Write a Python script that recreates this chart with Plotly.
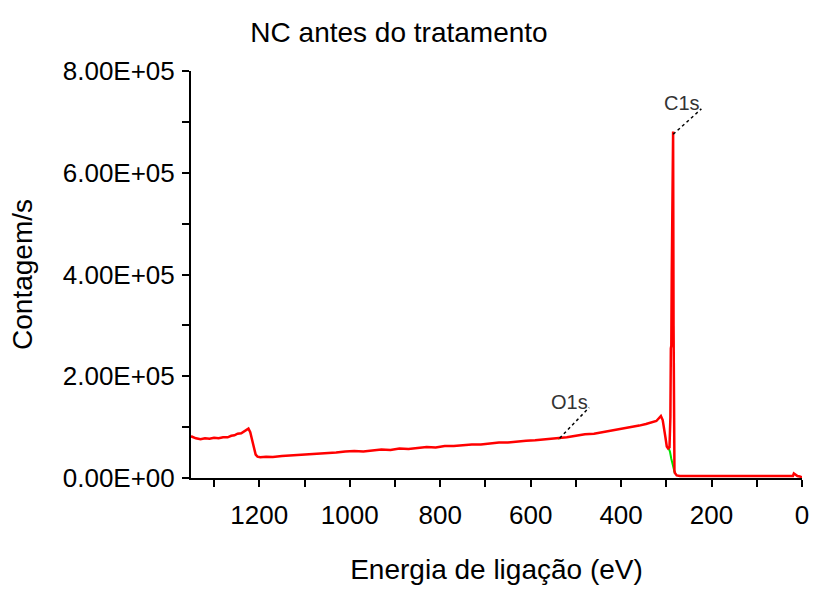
import plotly.graph_objects as go

# ---- data ----
energy_ev = [1351, 1340, 1330, 1320, 1310, 1300, 1290, 1280, 1270, 1262, 1255, 1248, 1240,
             1234, 1228, 1224, 1220, 1216, 1212, 1208, 1204, 1198, 1185, 1170, 1150, 1130,
             1110, 1090, 1070, 1050, 1030, 1010, 990, 970, 950, 930, 910, 890, 870, 850,
             830, 810, 790, 770, 750, 730, 710, 690, 670, 650, 630, 610, 590, 570, 550,
             535, 520, 500, 480, 460, 440, 420, 400, 380, 360, 345, 330, 322, 316, 312,
             308, 305, 302, 299, 296, 293, 291, 290, 289, 288, 287, 286, 285, 284, 283,
             282, 281, 279, 277, 270, 250, 230, 200, 150, 100, 50, 20, 18, 10, 5, 0]
counts_k = [82, 78, 76, 78, 77, 79, 78, 80, 80, 83, 84, 87, 88,
            92, 96, 97, 90, 75, 56, 46, 42, 41, 42, 41.5, 43, 44,
            45, 46, 48, 49, 50, 52, 53, 52, 54, 56, 55, 58, 57, 59,
            61, 60, 63, 63, 65, 66, 66, 68, 70, 70, 72, 73, 74, 76, 77,
            78, 80, 83, 86, 87, 90, 93, 96, 99, 103, 106, 110, 112, 118, 122,
            114, 100, 80, 62, 58, 60, 120, 255, 260, 400, 560, 681, 681, 300, 40,
            14, 10, 8, 5, 4, 4, 3.5, 4, 3.5, 3.8, 3.5, 4, 9, 4, 3, 1]
counts = [c * 1000 for c in counts_k]

# background (green) segments
bg_c1s_ev = [296, 292, 289, 286, 283, 281]
bg_c1s_counts = [61000, 52000, 38000, 25000, 14000, 9000]
bg_o1s_ev = [540, 535, 530]
bg_o1s_counts = [77500, 78300, 79000]

# peak labels
peak_names = ["C1s", "O1s"]
peak_ev = [284.8, 535.8]
peak_counts = [675600, 78300]
leader_end_ev = [222.5, 470.8]
leader_end_counts = [725600, 138400]
label_ev = [266, 515]
label_counts = [738000, 150000]

x_tick_vals = [0, 100, 200, 300, 400, 500, 600, 700, 800, 900, 1000, 1100, 1200, 1300]
x_tick_text = ["0", "", "200", "", "400", "", "600", "", "800", "", "1000", "", "1200", ""]
y_tick_vals = [0, 100000, 200000, 300000, 400000, 500000, 600000, 700000, 800000]
y_tick_text = ["0.00E+00", "", "2.00E+05", "", "4.00E+05", "", "6.00E+05", "", "8.00E+05"]

x_range = [1351, 0]
y_range = [0, 800000]

FONT = "Liberation Sans, Arial, sans-serif"

fig = go.Figure()
fig.add_trace(go.Scatter(x=bg_c1s_ev, y=bg_c1s_counts, mode="lines",
                         line=dict(color="#00e000", width=2), showlegend=False))
fig.add_trace(go.Scatter(x=bg_o1s_ev, y=bg_o1s_counts, mode="lines",
                         line=dict(color="#00e000", width=2), showlegend=False))
fig.add_trace(go.Scatter(x=energy_ev, y=counts, mode="lines",
                         line=dict(color="#ff0000", width=2.5), showlegend=False))

for name, pe, pc, le, lc, te, tc in zip(peak_names, peak_ev, peak_counts,
                                        leader_end_ev, leader_end_counts,
                                        label_ev, label_counts):
    fig.add_shape(type="line", x0=pe, y0=pc, x1=le, y1=lc, xref="x", yref="y",
                  line=dict(color="black", width=1.5, dash="dot"))
    fig.add_annotation(x=te, y=tc, xref="x", yref="y", text=name, showarrow=False,
                       font=dict(family=FONT, size=20, color="#333333"),
                       xanchor="center", yanchor="middle")

axis_common = dict(showgrid=False, zeroline=False)

fig.update_layout(
    width=818, height=589,
    margin=dict(l=191, r=9, t=71, b=106),
    paper_bgcolor="white", plot_bgcolor="white",
    font=dict(family=FONT, color="black"),
    title=dict(text="NC antes do tratamento", x=399 / 818, xref="container",
               y=1 - 32 / 589, yref="container", xanchor="center", yanchor="middle",
               font=dict(family=FONT, size=28, color="black")),
    xaxis=dict(range=x_range, tickmode="array", tickvals=x_tick_vals, ticktext=x_tick_text,
               ticks="outside", ticklen=7, tickwidth=2, tickcolor="black",
               showline=True, linecolor="black", linewidth=2,
               ticklabelstandoff=6,
               tickfont=dict(family=FONT, size=26, color="black"),
               title=dict(text="Energia de ligação (eV)", standoff=30,
                          font=dict(family=FONT, size=28, color="black")),
               **axis_common),
    yaxis=dict(range=y_range, tickmode="array", tickvals=y_tick_vals, ticktext=y_tick_text,
               ticks="outside", ticklen=7, tickwidth=2, tickcolor="black",
               showline=True, linecolor="black", linewidth=2,
               ticklabelstandoff=2,
               tickfont=dict(family=FONT, size=26, color="black"),
               title=dict(text="Contagem/s", standoff=22,
                          font=dict(family=FONT, size=28, color="black")),
               **axis_common),
    xaxis2=dict(overlaying="x", anchor="y", side="bottom", range=x_range,
                tickmode="array", tickvals=x_tick_vals, showticklabels=False,
                ticks="inside", ticklen=6, tickwidth=2, tickcolor="black",
                showline=False, **axis_common),
    yaxis2=dict(overlaying="y", anchor="x", side="left", range=y_range,
                tickmode="array", tickvals=y_tick_vals, showticklabels=False,
                ticks="inside", ticklen=6, tickwidth=2, tickcolor="black",
                showline=False, **axis_common),
)

fig.write_html("out.html")
